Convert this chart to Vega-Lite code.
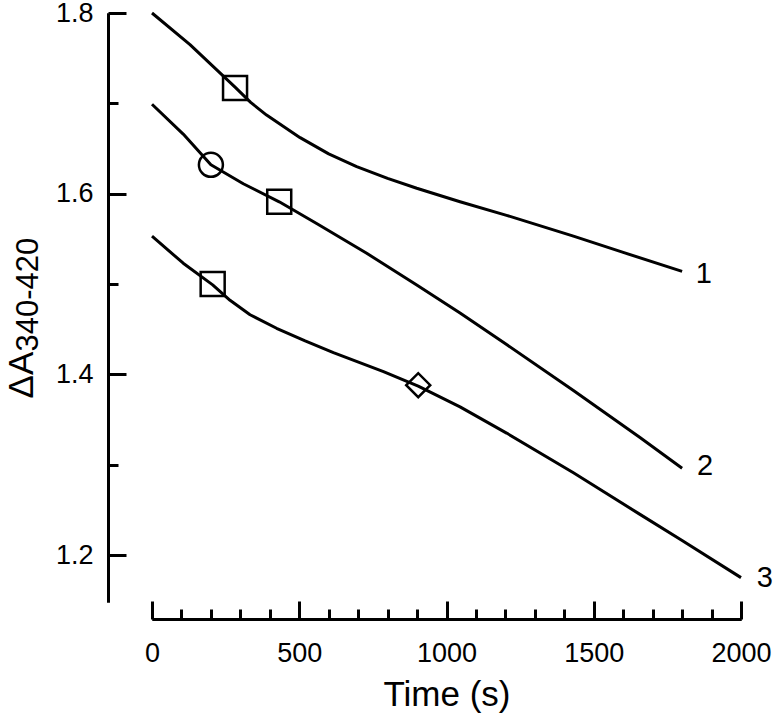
{
  "$schema": "https://vega.github.io/schema/vega-lite/v6.json",
  "width": 589,
  "height": 589,
  "autosize": {"type": "none"},
  "padding": {"left": 152, "top": 13, "right": 33, "bottom": 115},
  "background": "white",
  "config": {
    "view": {"stroke": null},
    "font": "Liberation Sans",
    "axis": {
      "grid": false,
      "domainColor": "black",
      "tickColor": "black",
      "labelColor": "black",
      "titleColor": "black",
      "domainWidth": 3,
      "tickWidth": 3,
      "labelFont": "Liberation Sans",
      "titleFont": "Liberation Sans",
      "labelFontWeight": "normal",
      "titleFontWeight": "normal"
    }
  },
  "datasets": {
    "curves": [
      {"s": "1", "t": 0, "v": 1.800},
      {"s": "1", "t": 129, "v": 1.765},
      {"s": "1", "t": 282, "v": 1.718},
      {"s": "1", "t": 335, "v": 1.701},
      {"s": "1", "t": 389, "v": 1.687},
      {"s": "1", "t": 503, "v": 1.662},
      {"s": "1", "t": 600, "v": 1.644},
      {"s": "1", "t": 695, "v": 1.630},
      {"s": "1", "t": 800, "v": 1.617},
      {"s": "1", "t": 899, "v": 1.606},
      {"s": "1", "t": 1046, "v": 1.591},
      {"s": "1", "t": 1204, "v": 1.576},
      {"s": "1", "t": 1431, "v": 1.553},
      {"s": "1", "t": 1600, "v": 1.535},
      {"s": "1", "t": 1800, "v": 1.514},
      {"s": "2", "t": 0, "v": 1.699},
      {"s": "2", "t": 106, "v": 1.666},
      {"s": "2", "t": 200, "v": 1.632},
      {"s": "2", "t": 310, "v": 1.611},
      {"s": "2", "t": 432, "v": 1.591},
      {"s": "2", "t": 559, "v": 1.567},
      {"s": "2", "t": 729, "v": 1.534},
      {"s": "2", "t": 899, "v": 1.499},
      {"s": "2", "t": 1046, "v": 1.468},
      {"s": "2", "t": 1204, "v": 1.433},
      {"s": "2", "t": 1431, "v": 1.382},
      {"s": "2", "t": 1657, "v": 1.330},
      {"s": "2", "t": 1800, "v": 1.296},
      {"s": "3", "t": 0, "v": 1.553},
      {"s": "3", "t": 106, "v": 1.523},
      {"s": "3", "t": 206, "v": 1.499},
      {"s": "3", "t": 265, "v": 1.482},
      {"s": "3", "t": 333, "v": 1.466},
      {"s": "3", "t": 423, "v": 1.451},
      {"s": "3", "t": 520, "v": 1.437},
      {"s": "3", "t": 616, "v": 1.424},
      {"s": "3", "t": 786, "v": 1.403},
      {"s": "3", "t": 904, "v": 1.387},
      {"s": "3", "t": 1046, "v": 1.364},
      {"s": "3", "t": 1204, "v": 1.335},
      {"s": "3", "t": 1431, "v": 1.291},
      {"s": "3", "t": 1657, "v": 1.245},
      {"s": "3", "t": 1800, "v": 1.216},
      {"s": "3", "t": 2000, "v": 1.175}
    ],
    "markers": [
      {"shape": "square", "t": 282, "v": 1.717},
      {"shape": "circle", "t": 200, "v": 1.632},
      {"shape": "square", "t": 432, "v": 1.591},
      {"shape": "square", "t": 206, "v": 1.500},
      {"shape": "diamond", "t": 904, "v": 1.388}
    ],
    "labels": [
      {"label": "1", "t": 1874, "v": 1.511},
      {"label": "2", "t": 1878, "v": 1.299},
      {"label": "3", "t": 2081, "v": 1.175}
    ]
  },
  "layer": [
    {
      "data": {"name": "curves"},
      "mark": {"type": "line", "color": "black", "strokeWidth": 3, "interpolate": "linear", "strokeJoin": "round"},
      "encoding": {
        "x": {
          "field": "t", "type": "quantitative",
          "scale": {"domain": [0, 2000], "nice": false, "zero": false},
          "axis": {
            "orient": "bottom",
            "values": [0, 500, 1000, 1500, 2000],
            "tickSize": -18,
            "labelPadding": 39,
            "labelFontSize": 27,
            "labelFlush": false,
            "labelOverlap": false,
            "format": "d",
            "offset": 17,
            "title": "Time (s)",
            "titleFontSize": 35,
            "titleBaseline": "alphabetic",
            "titleY": 86
          }
        },
        "y": {
          "field": "v", "type": "quantitative",
          "scale": {"domain": [1.148, 1.8], "nice": false, "zero": false},
          "axis": {
            "orient": "left",
            "values": [1.2, 1.4, 1.6, 1.8],
            "tickSize": -18,
            "labelPadding": 33,
            "labelFontSize": 27,
            "labelFlush": false,
            "labelOverlap": false,
            "format": ".1f",
            "offset": 44,
            "title": "ΔA",
            "titleFontSize": 35,
            "titleAngle": 270,
            "titleAlign": "left",
            "titleBaseline": "alphabetic",
            "titleX": -76,
            "titleY": 385
          }
        },
        "detail": {"field": "s"}
      }
    },
    {
      "data": {"name": "markers"},
      "mark": {"type": "point", "filled": false, "stroke": "black", "strokeWidth": 2.5, "size": 576, "opacity": 1},
      "encoding": {
        "x": {
          "field": "t", "type": "quantitative",
          "scale": {"domain": [0, 2000], "nice": false, "zero": false},
          "axis": {
            "orient": "bottom",
            "values": [100, 200, 300, 400, 600, 700, 800, 900, 1100, 1200, 1300, 1400, 1600, 1700, 1800, 1900],
            "tickSize": -10,
            "labels": false,
            "offset": 17,
            "title": null
          }
        },
        "y": {
          "field": "v", "type": "quantitative",
          "scale": {"domain": [1.148, 1.8], "nice": false, "zero": false},
          "axis": {
            "orient": "left",
            "values": [1.3, 1.5, 1.7],
            "tickSize": -10,
            "labels": false,
            "offset": 44,
            "title": "340-420",
            "titleFontSize": 31,
            "titleAngle": 270,
            "titleAlign": "left",
            "titleBaseline": "alphabetic",
            "titleX": -71,
            "titleY": 338
          }
        },
        "shape": {"field": "shape", "type": "nominal", "scale": null}
      }
    },
    {
      "data": {"name": "labels"},
      "mark": {"type": "text", "fontSize": 29, "font": "Liberation Sans", "align": "center", "baseline": "middle", "color": "black"},
      "encoding": {
        "x": {"field": "t", "type": "quantitative", "axis": null},
        "y": {"field": "v", "type": "quantitative", "axis": null},
        "text": {"field": "label"}
      }
    }
  ],
  "resolve": {"axis": {"x": "independent", "y": "independent"}}
}
